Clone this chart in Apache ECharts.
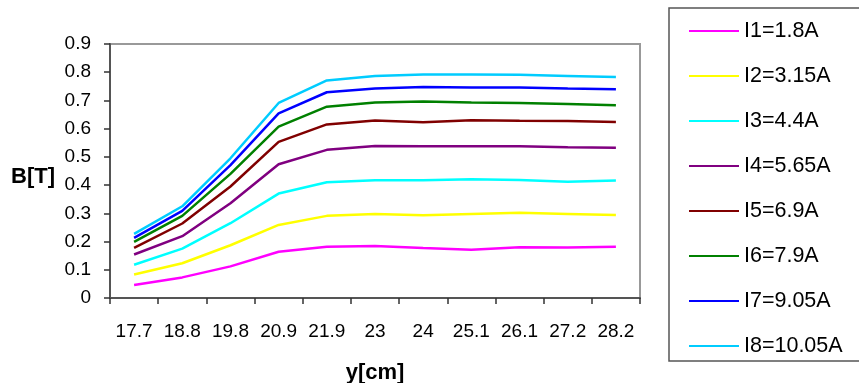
<!DOCTYPE html>
<html>
<head>
<meta charset="utf-8">
<script src="https://cdn.jsdelivr.net/npm/echarts@6/dist/echarts.min.js"></script>
<style>
html,body{margin:0;padding:0;background:#fff;}
#chart{width:859px;height:383px;}
</style>
</head>
<body>
<div id="chart"></div>
<script>
const categories = ['17.7','18.8','19.8','20.9','21.9','23','24','25.1','26.1','27.2','28.2'];
const seriesNames = ['I1=1.8A','I2=3.15A','I3=4.4A','I4=5.65A','I5=6.9A','I6=7.9A','I7=9.05A','I8=10.05A'];
const I1 = [0.046, 0.073, 0.112, 0.164, 0.182, 0.184, 0.177, 0.171, 0.180, 0.179, 0.182];
const I2 = [0.083, 0.123, 0.187, 0.259, 0.291, 0.298, 0.293, 0.298, 0.302, 0.298, 0.294];
const I3 = [0.118, 0.175, 0.265, 0.370, 0.410, 0.417, 0.417, 0.421, 0.418, 0.412, 0.416];
const I4 = [0.154, 0.219, 0.336, 0.474, 0.525, 0.539, 0.538, 0.538, 0.538, 0.534, 0.532];
const I5 = [0.178, 0.264, 0.395, 0.553, 0.615, 0.629, 0.623, 0.630, 0.628, 0.627, 0.624];
const I6 = [0.199, 0.291, 0.440, 0.607, 0.678, 0.693, 0.696, 0.693, 0.691, 0.687, 0.683];
const I7 = [0.213, 0.309, 0.471, 0.654, 0.729, 0.742, 0.748, 0.746, 0.746, 0.742, 0.740];
const I8 = [0.227, 0.325, 0.495, 0.691, 0.771, 0.787, 0.792, 0.792, 0.791, 0.787, 0.783];
const seriesData = [I1, I2, I3, I4, I5, I6, I7, I8];
const colors = ['#FF00FF','#FFFF00','#00FFFF','#800080','#800000','#008000','#0000FF','#00CCFF'];

const font = '"Liberation Sans", Arial, sans-serif';
const chart = echarts.init(document.getElementById('chart'), null, {renderer:'canvas'});
chart.setOption({
  animation: false,
  backgroundColor: '#fff',
  color: colors,
  grid: {
    left: 110, right: 219, top: 44, bottom: 85,
    outerBoundsMode: 'none', containLabel: false,
    show: true, borderColor: '#999', borderWidth: 2, backgroundColor: 'transparent'
  },
  legend: {
    orient: 'vertical',
    left: 669, top: 8,
    padding: [12, 80, 4, 20],
    icon: 'rect',
    itemWidth: 50, itemHeight: 2, itemGap: 23,
    borderColor: '#555', borderWidth: 1.5,
    textStyle: {fontFamily: font, fontSize: 21.5, color: '#000', lineHeight: 22},
    data: seriesNames
  },
  xAxis: {
    type: 'category',
    data: categories,
    boundaryGap: true,
    name: 'y[cm]',
    nameLocation: 'middle',
    nameGap: 64,
    nameTextStyle: {fontFamily: font, fontSize: 22, fontWeight: 'bold', color: '#000'},
    axisLine: {lineStyle: {color: '#555', width: 2}},
    axisTick: {show: true, length: 6, lineStyle: {color: '#333', width: 1.5}},
    axisLabel: {fontFamily: font, fontSize: 19, color: '#000', margin: 24, interval: 0},
    splitLine: {show: false}
  },
  yAxis: {
    type: 'value',
    min: 0, max: 0.9, interval: 0.1,
    name: 'B[T]',
    nameLocation: 'middle',
    nameRotate: 0,
    nameGap: 55,
    nameTextStyle: {fontFamily: font, fontSize: 22, fontWeight: 'bold', color: '#000', verticalAlign: 'top', lineHeight: 12},
    axisLine: {show: true, lineStyle: {color: '#555', width: 2}},
    axisTick: {show: true, length: 6, lineStyle: {color: '#333', width: 1.5}},
    axisLabel: {fontFamily: font, fontSize: 19, color: '#000', margin: 19},
    splitLine: {show: false}
  },
  series: seriesNames.map((n, i) => ({
    name: n,
    type: 'line',
    data: seriesData[i],
    symbol: 'none',
    lineStyle: {width: 2.5, color: colors[i]},
    itemStyle: {color: colors[i]}
  }))
});
</script>
</body>
</html>
